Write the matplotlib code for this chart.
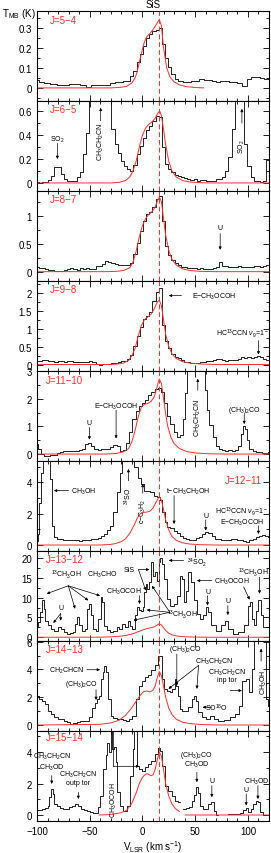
import numpy as np
import matplotlib
matplotlib.use("Agg")
import matplotlib.pyplot as plt
from matplotlib.ticker import MultipleLocator, FuncFormatter

plt.rcParams['font.family'] = ['Liberation Sans', 'DejaVu Sans']
plt.rcParams['mathtext.fontset'] = 'custom'
plt.rcParams['mathtext.rm'] = 'Liberation Sans'
plt.rcParams['mathtext.it'] = 'Liberation Sans:italic'

nan = np.nan
v_sys = 16.0

# J=5-4
v54 = [-100, -97, -90, -85, -78, -72, -68, -62, -56, -51, -46, -40, -34, -28, -24, -20, -16, -13,
       -10, -7, -4, -1, 2, 5, 8, 11, 14, 17, 20, 23, 26, 29, 32, 36, 40, 44, 48, 52, 56, 60, 64, 68,
       72, 76, 80, 84, 88, 92, 97, 101, 105, 109, 113, 117, 120]
t54 = [0.04, 0.028, 0.025, 0.02, 0.012, 0.014, 0.017, 0.018, 0.016, 0.003, 0.015, 0.014, 0.016, 0.022,
       0.028, 0.027, 0.032, 0.036, 0.058, 0.085, 0.13, 0.17, 0.21, 0.25, 0.27, 0.285, 0.29, 0.297, 0.22,
       0.15, 0.105, 0.07, 0.045, 0.035, 0.03, 0.028, 0.032, 0.035, 0.045, 0.04, 0.038, 0.032, 0.03,
       0.035, 0.033, 0.03, 0.028, 0.022, 0.008, 0.045, 0.053, 0.052, 0.05, 0.045, 0.045]
mv54 = [-100, -30, -20, -15, -10, -7, -5, -2, 1, 4, 7, 10, 13, 16, 18, 20, 23, 26, 30, 35, 42, 50, 58]
mt54 = [0, 0, 0.003, 0.008, 0.025, 0.05, 0.08, 0.15, 0.215, 0.255, 0.27, 0.29, 0.315, 0.34, 0.31,
        0.2, 0.1, 0.055, 0.03, 0.015, 0.006, 0.002, 0]

# J=6-5
v65 = [-100, -97, -94, -91, -88, -85, -82, -79, -76, -73, -70, -67, -64, -61, -58, -55, -52, -49,
       -46, -43, -40, -37, -34, -31, -28, -25, -22, -19, -16, -13, -10, -7, -4, -1, 2, 5, 8, 11, 14,
       17, 20, 23, 26, 29, 32, 35, 38, 41, 44, 47, 50, 53, 56, 59, 62, 65, 68, 71, 74, 77, 80, 83,
       86, 89, 92, 95, 98, 101, 104, 107, 110, 113, 116, 119]
t65 = [0.005, 0.003, 0.006, 0.005, 0.025, 0.06, 0.13, 0.13, 0.075, 0.035, 0.015, 0.013, 0.013, 0.047,
       0.09, 0.24, 0.42, 0.8, 1.2, 1.2, 1.2, 1.2, 1.2, 0.8, 0.45, 0.33, 0.25, 0.18, 0.14, 0.115, 0.1,
       0.15, 0.24, 0.31, 0.38, 0.44, 0.48, 0.52, 0.56, 0.55, 0.3, 0.16, 0.12, 0.09, 0.07, 0.06, 0.05,
       0.04, 0.035, 0.025, 0.03, 0.02, 0.025, 0.025, 0.015, 0.015, 0.02, 0.03, 0.035, 0.05, 0.1, 0.22,
       0.45, 0.8, 1.2, 1.2, 0.33, 0.145, 0.05, 0.015, 0.015, 0.012, 0.015, 0.19]
mv65 = [-100, -30, -22, -16, -12, -9, -6, -3, 0, 3, 6, 9, 12, 15, 16.5, 18, 20, 22, 25, 28, 32, 38,
        45, 55, 65, 120]
mt65 = [0, 0, 0.005, 0.02, 0.05, 0.1, 0.18, 0.3, 0.4, 0.46, 0.49, 0.51, 0.54, 0.59, 0.6, 0.56, 0.45,
        0.32, 0.18, 0.1, 0.05, 0.02, 0.008, 0.002, 0, 0]

# J=8-7
v87 = [-100, -97, -94, -91, -88, -85, -82, -79, -76, -73, -70, -67, -64, -61, -58, -55, -52, -49,
       -46, -43, -40, -37, -34, -31, -28, -25, -22, -19, -16, -13, -10, -7, -4, -1, 2, 5, 8, 11, 14,
       17, 20, 23, 26, 29, 32, 35, 38, 41, 44, 47, 50, 53, 56, 59, 62, 65, 68, 71, 74, 77, 80, 83,
       86, 89, 92, 95, 98, 101, 104, 107, 110, 113, 116, 119]
t87 = [0.09, 0.07, 0.065, 0.05, 0.035, 0.025, 0.02, 0.018, 0.02, 0.025, 0.05, 0.07, 0.04, 0.035, 0.06,
       0.04, 0.065, 0.05, 0.055, 0.095, 0.095, 0.14, 0.19, 0.18, 0.16, 0.14, 0.12, 0.11, 0.12, 0.11,
       0.15, 0.32, 0.52, 0.73, 0.9, 1.02, 1.06, 1.15, 1.3, 1.345, 0.91, 0.46, 0.29, 0.2, 0.16, 0.12,
       0.09, 0.09, 0.07, 0.065, 0.06, 0.055, 0.06, 0.05, 0.045, 0.05, 0.07, 0.08, 0.18, 0.1, 0.1,
       0.08, 0.075, 0.08, 0.1, 0.09, 0.09, 0.085, 0.09, 0.1, 0.095, 0.09, 0.1, 0.12]
mv87 = [-100, -35, -25, -18, -12, -9, -6, -3, 0, 3, 6, 9, 12, 14, 16, 18, 20, 22, 25, 28, 32, 38, 45,
        55, 70, 120]
mt87 = [0, 0, 0.005, 0.02, 0.07, 0.17, 0.36, 0.62, 0.82, 0.95, 1.02, 1.07, 1.15, 1.25, 1.33, 1.25,
        0.95, 0.65, 0.38, 0.22, 0.12, 0.05, 0.02, 0.005, 0, 0]

# J=9-8
v98 = [-100, -97, -94, -91, -88, -85, -82, -79, -76, -73, -70, -67, -64, -61, -58, -55, -52, -49,
       -46, -43, -40, -37, -34, -31, -28, -25, -22, -19, -16, -13, -10, -7, -4, -1, 2, 5, 8, 11, 14,
       17, 20, 23, 26, 29, 32, 35, 38, 41, 44, 47, 50, 53, 56, 59, 62, 65, 68, 71, 74, 77, 80, 83,
       86, 89, 92, 95, 98, 101, 104, 107, 110, 113, 116, 119]
t98 = [0.11, 0.1, 0.12, 0.14, 0.1, 0.09, 0.08, 0.09, 0.1, 0.08, 0.09, 0.11, 0.07, 0.065, 0.08, 0.08,
       0.07, 0.09, 0.06, 0.02, 0.0, 0.01, 0.02, 0.01, 0.03, 0.05, 0.06, 0.09, 0.11, 0.15, 0.28, 0.53,
       0.81, 1.04, 1.27, 1.35, 1.46, 1.79, 2.02, 2.13, 1.1, 0.65, 0.45, 0.3, 0.22, 0.17, 0.12, 0.08,
       0.06, 0.05, 0.05, 0.04, 0.06, 0.08, 0.09, 0.1, 0.12, 0.15, 0.16, 0.13, 0.11, 0.13, 0.14, 0.12,
       0.16, 0.2, 0.18, 0.2, 0.17, 0.2, 0.23, 0.2, 0.16, 0.12]
mv98 = [-100, -35, -25, -18, -13, -10, -7, -4, -1, 2, 5, 8, 11, 14, 16, 18, 20, 22, 25, 28, 32, 38, 45,
        55, 70, 120]
mt98 = [0, 0, 0.01, 0.04, 0.12, 0.25, 0.45, 0.8, 1.1, 1.26, 1.33, 1.4, 1.55, 1.75, 1.8, 1.65, 1.25,
        0.85, 0.5, 0.3, 0.17, 0.08, 0.04, 0.015, 0, 0]

# J=11-10
v1110 = [-100, -98, -95, -92, -89, -86, -83, -80, -77, -74, -71, -68, -65, -62, -59, -56, -53, -50,
         -47, -44, -41, -38, -35, -32, -29, -26, -23, -20, -17, -14, -11, -8, -5, -2, 1, 4, 7, 10, 13,
         16, 19, 22, 25, 28, 31, 34, 37, 39, 41, 43, 46, 50, 54, 58, 60, 62, 65, 68, 71, 74, 77, 80,
         83, 86, 89, 92, 94, 96, 98, 100, 103, 106, 109, 112, 115, 118, 120]
t1110 = [0.36, 0.18, 0.0, -0.06, -0.08, -0.05, -0.02, 0.05, 0.08, 0.1, 0.12, 0.12, 0.12, 0.12, 0.15,
         0.2, 0.35, 0.4, 0.3, 0.18, 0.15, 0.18, 0.17, 0.2, 0.25, 0.32, 0.3, 0.12, 0.15, 0.4, 0.8, 1.25,
         1.55, 1.75, 1.83, 1.95, 2.12, 2.25, 2.35, 2.4, 2.25, 1.85, 1.38, 1.08, 0.78, 0.62, 0.7, 1.26,
         2.2, 3.5, 4, 4, 4, 3.5, 2.33, 1.6, 1.05, 0.6, 0.3, 0.2, 0.14, 0.12, 0.14, 0.12, 0.15, 0.3,
         0.72, 1.02, 0.9, 0.5, 0.2, 0.12, 0.08, 0.06, 0.05, 0.05, 0.06]
mv1110 = [-100, -35, -25, -18, -13, -10, -7, -4, -1, 2, 5, 8, 11, 13, 15, 16, 18, 20, 22, 24, 27, 30,
          35, 42, 50, 60, 75, 120]
mt1110 = [0, 0, 0.02, 0.08, 0.2, 0.45, 0.85, 1.35, 1.7, 1.8, 1.82, 1.9, 2.05, 2.3, 2.6, 2.7, 2.55,
          2.0, 1.45, 1.0, 0.6, 0.38, 0.2, 0.09, 0.04, 0.015, 0, 0]

# J=12-11
v1211 = [-100, -98.5, -97, -95.5, -94, -91, -88, -86.5, -85, -83, -80, -77, -74, -71, -68, -65, -62,
         -59, -56, -53, -50, -47, -44, -41, -38, -35, -32, -29, -26, -23, -20.5, -18, -14, -10, -6,
         -3, 0, 3, 6, 9, 12, 15, 18, 20, 22, 25, 28, 31, 34, 37, 40, 43, 46, 49, 52, 55, 58, 61, 64,
         67, 70, 73, 76, 79, 82, 85, 88, 91, 94, 97, 100, 103, 106, 109, 112, 115, 118, 120]
t1211 = [0.28, 0.7, 2.7, 4.6, 6, 6, 6, 4.2, 1.23, 0.5, 0.4, 0.38, 0.35, 0.32, 0.34, 0.3, 0.3, 0.28,
         0.3, 0.33, 0.34, 0.36, 0.4, 0.42, 0.55, 0.7, 0.95, 1.23, 2.1, 3.36, 4.6, 6, 6, 6, 5.0, 4.3,
         3.9, 3.47, 3.47, 3.36, 3.15, 3.04, 2.9, 2.08, 1.45, 1.13, 1.06, 0.91, 0.75, 0.6, 0.45, 0.38,
         0.35, 0.34, 0.45, 0.5, 0.7, 0.8, 0.78, 0.6, 0.4, 0.38, 0.35, 0.3, 0.32, 0.38, 0.36, 0.3, 0.32,
         0.25, 0.18, 0.3, 0.4, 0.5, 0.55, 0.64, 0.6, 0.48]
mv1211 = [-100, -40, -30, -25, -20, -16, -12, -8, -5, -2, 1, 4, 7, 10, 13, 16, 18, 20, 22, 25, 28, 32,
          38, 45, 55, 70, 120]
mt1211 = [0, 0, 0.04, 0.1, 0.22, 0.4, 0.75, 1.25, 1.7, 2.0, 2.08, 2.1, 2.15, 2.35, 2.75, 3.1, 2.85,
          2.25, 1.6, 0.95, 0.55, 0.3, 0.14, 0.06, 0.02, 0, 0]

# J=13-12
v1312 = [-100, -98, -96, -94.5, -93, -91, -88, -85, -82, -79, -76, -73, -70, -67, -65, -63, -61, -59,
         -56, -53, -51.5, -50, -48, -46, -43, -40.5, -39, -37, -35, -32, -29, -26, -23, -21, -18,
         -15, -13, -11.5, -9, -6, -4, -2, 0, 1, 2.5, 4, 5.5, 7.5, 9.5, 11, 13, 14.5, 16, 18, 19.5,
         21.5, 24.5, 28, 31, 34, 36.5, 38.5, 40.5, 42.5, 44.5, 47, 50, 53, 56, 59.5, 61.5, 63.5, 67,
         72, 77, 80, 83, 88, 93, 99, 101.5, 103, 105, 107, 109, 111, 113, 116.5, 120]
t1312 = [2.95, 3.8, 6.3, 9.3, 7.2, 4.2, 3.0, 2.1, 1.7, 2.5, 2.0, 1.3, 0.9, 1.0, 1.3, 3.4, 5.1, 3.0,
         1.7, 2.1, 7.2, 8.4, 5.5, 2.1, 1.7, 4.6, 10.1, 8.9, 2.95, 1.8, 1.3, 1.7, 2.5, 2.1, 3.4, 2.5,
         4.2, 2.95, 2.1, 5.5, 7.6, 7.0, 6.75, 7.6, 11.4, 13.5, 12.2, 13.9, 19.0, 15.6, 16.5, 14.3,
         19.0, 20.0, 18.6, 14.8, 9.7, 8.0, 8.4, 10.5, 15.6, 14.8, 8.9, 11.8, 16.5, 13.9, 9.3, 5.9,
         4.6, 5.5, 7.6, 6.3, 3.0, 1.7, 3.0, 4.2, 2.1, 0.85, 1.3, 3.0, 8.0, 8.9, 4.6, 3.0, 6.75, 9.3,
         5.5, 2.5, 2.5]
mv1312 = [-100, -40, -30, -20, -15, -10, -5, -1, 2, 5, 8, 11, 14, 16, 18, 20, 22, 25, 28, 33, 40, 50,
          65, 120]
mt1312 = [0, 0.02, 0.1, 0.3, 0.5, 0.8, 1.3, 1.7, 2.0, 2.25, 2.4, 2.6, 3.1, 3.4, 3.1, 2.4, 1.7, 1.0,
          0.6, 0.3, 0.12, 0.04, 0, 0]

# J=14-13
v1413 = [-100, -97, -94, -91, -88, -85, -82, -79, -76, -73, -70, -67, -64, -61, -58, -55, -52, -49,
         -46, -44, -42.5, -40, -38.5, -37, -35, -33.5, -31.5, -29, -26, -23, -20, -17, -14, -11, -8,
         -5, -2, 1, 4, 7, 10, 13, 16, 18, 19.5, 21.5, 24.5, 27, 29.5, 31.5, 33, 34.5, 36, 39, 42, 45,
         48.5, 50, 52, 54, 58, 62, 66, 69, 74, 80, 86, 90, 93, 96, 100, 102.5, 104.5, 107, 110, 113,
         116, 118.5, 120]
t1413 = [2.1, 1.9, 1.76, 1.5, 1.04, 0.8, 0.55, 0.45, 0.43, 0.3, 0.19, 0.08, 0.15, 0.25, 0.3, 0.3, 0.3,
         0.6, 1.2, 1.6, 1.88, 2.1, 3.3, 3.8, 4.24, 3.8, 1.88, 0.67, 0.48, 0.45, 0.43, 0.35, 0.31, 0.43,
         0.67, 1.88, 2.84, 3.2, 3.45, 3.57, 3.93, 4.3, 5.0, 5.0, 3.3, 2.6, 2.48, 2.36, 2.6, 3.33, 2.84,
         2.1, 1.16, 1.04, 1.04, 1.28, 1.88, 2.12, 1.76, 0.92, 0.55, 0.43, 0.67, 0.45, 0.31, 0.38, 0.55,
         0.8, 1.4, 3.2, 3.33, 2.36, 4.05, 6.5, 7, 7, 7, 1.88, 1.4]
mv1413 = [-100, -40, -30, -22, -16, -11, -6, -2, 1, 4, 7, 10, 12, 14, 16, 18, 20, 22, 25, 28, 32, 38,
          45, 55, 70, 120]
mt1413 = [0, 0.05, 0.15, 0.35, 0.7, 1.15, 1.7, 2.15, 2.4, 2.45, 2.38, 2.5, 2.8, 3.4, 3.85, 3.55, 2.8,
          2.0, 1.2, 0.75, 0.42, 0.2, 0.1, 0.04, 0, 0]

# J=15-14 (gaps in the observed band)
v1514 = [-100, -97, -94, -91, -89, -87.5, -86, -84.5, -83, -80, -77, -74, -71, -68, -65, -63, -60,
         -57, -54, -51, -48, -45, -43, -41.5, -39, -36, -34, -32.5, -31, -29.5, -28, -26, -24.5, -23,
         -20, -16.5, -13, -10, -8.5, -7, -5.5, -4, -2, 1, 4, 7, 10, 13.5, 16, 18, 20, 23, 26, 29.5,
         32.5, 35, 37, 40.5, 43, 45.5, 48, 50, 52, 54, 56, 58, 61, 64, 66.5, 68.5, 70.5, 72, 91, 94,
         97, 99, 101.5, 104, 106.5, 108.5, 110, 113, 116, 120]
t1514 = [0.32, 0.35, 0.38, 0.45, 0.6, 1.13, 1.66, 1.34, 0.7, 0.55, 0.45, 0.4, 0.38, 0.5, 0.6, 0.7,
         0.6, 0.38, 0.3, 0.25, 0.22, 0.15, 0.13, 0.5, 1.23, 2.94, 3.8, 4.6, 4.0, 5.5, 4.2, 4.3, 3.36,
         1.45, 0.6, 0.28, 0.6, 2.5, 4.2, 5.5, 5.5, 3.15, 2.94, 2.83, 3.04, 3.25, 3.47, 3.9, 4.25, 4.1,
         3.15, 1.87, 1.55, 1.23, 0.91, 0.8, nan, 0.38, 0.45, 0.5, 0.91, 1.3, 1.77, 1.4, 0.6, 0.38,
         0.38, 0.7, 0.8, 0.28, 0.0, nan, 0.06, 0.1, 0.3, 0.43, 0.2, 0.4, 0.7, 0.91, 0.85, 0.17, 0.02,
         0.0]
mv1514 = [-41, -30, -20, -15, -10, -6, -3, 0, 3, 5, 8, 10, 12, 14, 16, 18, 20, 22, 25, 28, 31, 35,
          37, 40.5, 120]
mt1514 = [0, 0.03, 0.15, 0.3, 0.75, 1.4, 2.0, 2.4, 2.6, 2.62, 2.5, 2.55, 2.9, 3.5, 4.0, 3.75, 2.9, 2.0,
          1.2, 0.7, 0.42, 0.22, nan, 0, 0]

labels = ['J=5\u22124', 'J=6\u22125', 'J=8\u22127', 'J=9\u22128', 'J=11\u221210', 'J=12\u221211',
          'J=13\u221212', 'J=14\u221213', 'J=15\u221214']
spectra = [(v54, t54), (v65, t65), (v87, t87), (v98, t98), (v1110, t1110), (v1211, t1211),
           (v1312, t1312), (v1413, t1413), (v1514, t1514)]
models = [(mv54, mt54), (mv65, mt65), (mv87, mt87), (mv98, mt98), (mv1110, mt1110),
          (mv1211, mt1211), (mv1312, mt1312), (mv1413, mt1413), (mv1514, mt1514)]
ylims = [(-0.065, 0.383), (-0.067, 0.686), (-0.166, 1.44), (-0.18, 2.34), (-0.25, 3.0),
         (-0.38, 5.36), (-0.94, 21.8), (-0.43, 6.05), (-0.38, 5.35)]
majors = [0.1, 0.2, 0.5, 0.5, 1, 2, 5, 2, 2]
minors = [0.05, 0.1, 0.25, 0.25, 0.5, 1, 2.5, 1, 1]
jpos = [(-88, 0.34, 'left'), (-88, 0.62, 'left'), (-88, 1.3, 'left'), (-88, 2.11, 'left'),
        (-92, 2.67, 'left'), (113, 4.17, 'right'), (-92, 19.8, 'left'), (-92, 5.5, 'left'),
        (-92, 4.95, 'left')]

fig, axes = plt.subplots(9, 1, figsize=(2.71, 8.54), dpi=100, sharex=True)
fig.subplots_adjust(left=0.1365, right=0.9926, top=0.986, bottom=0.0375, hspace=0)

FS = 5


def arr(ax, x0, y0, x1, y1):
    ax.annotate('', xy=(x1, y1), xytext=(x0, y0),
                arrowprops=dict(arrowstyle='-|>', color='k', lw=0.5, mutation_scale=4,
                                shrinkA=0, shrinkB=0))


def lab(ax, x, y, s, rot=0, ha='center'):
    ax.text(x, y, s, fontsize=FS, ha=ha, va='center', rotation=rot)


for i, ax in enumerate(axes):
    v, t = spectra[i]
    mv, mt = models[i]
    ax.plot(v, t, color='k', lw=0.6, drawstyle='steps-mid')
    ax.plot(mv, mt, color='#ff3030', lw=0.7)
    ax.axvline(v_sys, color='#ff3030', lw=0.7, ls=(0, (5, 3)))
    ax.set_xlim(-100, 120)
    ax.set_ylim(*ylims[i])
    ax.xaxis.set_major_locator(MultipleLocator(50))
    ax.xaxis.set_minor_locator(MultipleLocator(10))
    ax.yaxis.set_major_locator(MultipleLocator(majors[i]))
    ax.yaxis.set_minor_locator(MultipleLocator(minors[i]))
    ax.yaxis.set_major_formatter(FuncFormatter(lambda x, p: f'{x:g}'))
    ax.tick_params(which='both', direction='in', top=True, right=True, labelsize=7, width=0.6)
    ax.tick_params(which='major', length=4)
    ax.tick_params(which='minor', length=2)
    for s in ax.spines.values():
        s.set_linewidth(0.8)
    jx, jy, jha = jpos[i]
    ax.text(jx, jy, labels[i], color='#ff3030', fontsize=7, ha=jha, va='center')

# line identifications
ax = axes[1]
lab(ax, -80.7, 0.37, 'SO$_2$')
arr(ax, -80.7, 0.33, -80.7, 0.2)
lab(ax, -39.6, 0.35, 'CH$_3$CH$_2$CN', rot=90)
arr(ax, -39.6, 0.52, -39.6, 0.63)
lab(ax, 94.3, 0.31, 'SO$_2$', rot=90)
arr(ax, 94.3, 0.5, 94.3, 0.62)

ax = axes[2]
lab(ax, 73.7, 0.78, 'U')
arr(ax, 73.7, 0.68, 73.7, 0.39)

ax = axes[3]
lab(ax, 47, 1.93, 'E\u2212CH$_3$OCOH', ha='left')
arr(ax, 37, 1.93, 25, 1.93)
lab(ax, 94.6, 0.88, 'HC$^{13}$CCN $\\nu_9$=1$^-$')
arr(ax, 110, 0.67, 110, 0.28)

ax = axes[4]
lab(ax, -50.3, 1.14, 'U')
arr(ax, -50.3, 0.96, -50.3, 0.52)
lab(ax, -25, 1.74, 'E\u2212CH$_3$OCOH')
arr(ax, -25, 1.58, -25, 0.56)
lab(ax, 52.5, 1.32, 'CH$_3$CH$_2$CN', rot=90)
arr(ax, 52.5, 2.3, 52.5, 2.72)
lab(ax, 96.5, 1.62, '(CH$_3$)$_2$CO')
arr(ax, 96.5, 1.44, 96.5, 1.08)

ax = axes[5]
lab(ax, -68, 3.47, 'CH$_3$OH', ha='left')
arr(ax, -70, 3.47, -84, 3.47)
lab(ax, -13.3, 3.2, '$^{34}$SO', rot=90)
arr(ax, -13.3, 4.1, -13.3, 4.85)
lab(ax, 0.3, 2.2, 'c\u2212C$_3$H$_2$', rot=90)
arr(ax, 0.3, 3.3, 0.3, 3.9)
lab(ax, 43.7, 3.47, 't\u2212CH$_3$CH$_2$OH')
arr(ax, 30, 3.15, 30, 1.34)
lab(ax, 60, 1.91, 'U')
arr(ax, 60, 1.6, 60, 0.92)
lab(ax, 94.3, 2.2, 'HC$^{13}$CCN $\\nu_9$=1$^-$')
lab(ax, 94.3, 1.5, 'E\u2212CH$_3$OCOH')
arr(ax, 110, 1.23, 110, 0.7)

ax = axes[6]
lab(ax, -71.8, 16, '$^{13}$CH$_3$OH')
for x1, y1 in [(-90.8, 11), (-63.9, 7.2), (-51.3, 9.3), (-40.2, 10.5)]:
    arr(ax, -70.3, 13.0, x1, y1)
lab(ax, -77.5, 7.4, 'U')
arr(ax, -77.5, 6.0, -84.5, 3.6)
arr(ax, -77.5, 6.0, -77.5, 4.2)
lab(ax, -38.6, 16, 'CH$_3$CHO')
lab(ax, -13, 17.1, 'SiS')
arr(ax, -3.8, 17.1, 6.6, 17.1)
arr(ax, -3.8, 17.1, 3.2, 11.8)
lab(ax, -18, 11.6, 'CH$_3$OCOH')
arr(ax, -2.8, 10.5, -2.8, 8.4)
lab(ax, 42, 19.2, '$^{34}$SO$_2$', ha='left')
arr(ax, 39, 19.4, 25, 19.4)
lab(ax, 38.3, 5.9, '$^{13}$CH$_3$OH')
for x1, y1 in [(4.1, 6.9), (-8.5, 4.3), (9, 13)]:
    arr(ax, 26, 6.3, x1, y1)
lab(ax, 67.4, 14.3, 'CH$_3$OCOH', ha='left')
arr(ax, 65.8, 14.3, 51.6, 14.3)
lab(ax, 61.7, 11.6, 'U')
arr(ax, 61.7, 10.5, 61.7, 8)
lab(ax, 81, 9.3, 'U')
arr(ax, 81, 8, 81, 5.6)
lab(ax, 105.4, 16.6, '$^{13}$CH$_3$OH')
arr(ax, 96, 12.7, 101.6, 9.5)
arr(ax, 111, 15.2, 111, 11)

ax = axes[7]
lab(ax, -71.8, 3.98, 'CH$_2$CHCN')
arr(ax, -52.8, 3.98, -40.2, 3.98)
lab(ax, -57.6, 2.96, '(CH$_3$)$_2$CO')
arr(ax, -44, 2.55, -44, 1.8)
lab(ax, 41, 5.5, '(CH$_3$)$_2$CO')
arr(ax, 32.6, 5.1, 32.6, 2.84)
lab(ax, 67.4, 4.58, 'CH$_3$CH$_2$CN')
arr(ax, 53.2, 4.29, 24.7, 2.6)
arr(ax, 53.2, 4.29, 51.6, 2.6)
lab(ax, 80, 3.8, 'CH$_3$CH$_2$CN')
lab(ax, 80, 3.3, 'inp tor')
arr(ax, 83.2, 2.48, 94.3, 2.48)
lab(ax, 70.6, 1.28, 'SO$^{18}$O')
arr(ax, 65.8, 1.28, 57, 1.28)
lab(ax, 115, 3.1, 'CH$_3$OH', rot=90)
arr(ax, 112.5, 4.6, 112.5, 5.5)

ax = axes[8]
lab(ax, -86, 3.75, 'CH$_3$CH$_2$CN')
lab(ax, -86, 3.05, 'CH$_3$OD')
arr(ax, -86, 2.51, -86, 1.98)
lab(ax, -60.8, 2.62, 'CH$_3$CH$_2$CN')
lab(ax, -60.8, 2.08, 'outp tor')
arr(ax, -60.8, 1.45, -60.8, 1.02)
lab(ax, -27.5, 1.0, 'CH$_3$OCOH', rot=90)
ax.plot([-27.5, -27.5], [5.4, 3.1], color='k', lw=0.5)
arr(ax, -27.5, 3.1, -3, 3.1)
lab(ax, 51.6, 3.83, '(CH$_3$)$_2$CO')
lab(ax, 51.6, 3.26, 'CH$_3$OD')
arr(ax, 51.6, 2.72, 51.6, 2.09)
lab(ax, 65.8, 2.19, 'U')
arr(ax, 65.8, 1.87, 65.8, 1.13)
lab(ax, 98.4, 1.6, 'U')
arr(ax, 98.4, 1.34, 98.4, 0.6)
lab(ax, 108.5, 2.19, 'CH$_3$OD')
arr(ax, 109.5, 1.87, 109.5, 1.02)

axes[-1].set_xlabel('V$_{\\rm LSR}$ (km s$^{-1}$)', fontsize=7, labelpad=2)
fig.text(153 / 271, 1 - 5 / 854, 'SiS', fontsize=7, ha='center', va='center')
fig.text(2 / 271, 1 - 14 / 854, 'T$_{\\rm MB}$ (K)', fontsize=7, ha='left', va='center')

fig.savefig('out.png', dpi=100)
